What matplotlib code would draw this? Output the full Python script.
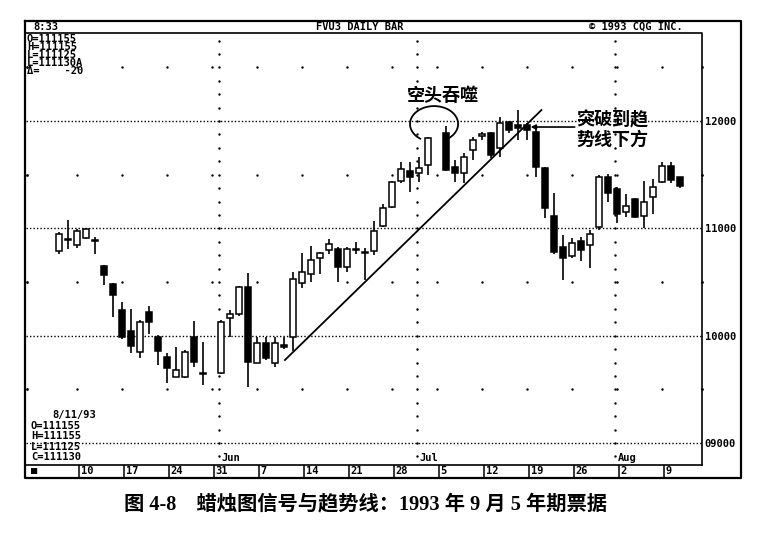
import numpy as np
import pandas as pd
import matplotlib
matplotlib.use("Agg")
import matplotlib.pyplot as plt

# daily bars, FVU3 (5-year note, Sep 1993)
dates = [
    "1993-05-06", "1993-05-07", "1993-05-10", "1993-05-11", "1993-05-12", "1993-05-13", "1993-05-14",
    "1993-05-17", "1993-05-18", "1993-05-19", "1993-05-20", "1993-05-21",
    "1993-05-24", "1993-05-25", "1993-05-26", "1993-05-27", "1993-05-28",
    "1993-06-01", "1993-06-02", "1993-06-03", "1993-06-04",
    "1993-06-07", "1993-06-08", "1993-06-09", "1993-06-10", "1993-06-11",
    "1993-06-14", "1993-06-15", "1993-06-16", "1993-06-17", "1993-06-18",
    "1993-06-21", "1993-06-22", "1993-06-23", "1993-06-24", "1993-06-25",
    "1993-06-28", "1993-06-29", "1993-06-30", "1993-07-01", "1993-07-02",
    "1993-07-06", "1993-07-07", "1993-07-08", "1993-07-09",
    "1993-07-12", "1993-07-13", "1993-07-14", "1993-07-15", "1993-07-16",
    "1993-07-19", "1993-07-20", "1993-07-21", "1993-07-22", "1993-07-23",
    "1993-07-26", "1993-07-27", "1993-07-28", "1993-07-29", "1993-07-30",
    "1993-08-02", "1993-08-03", "1993-08-04", "1993-08-05", "1993-08-06",
    "1993-08-09", "1993-08-10", "1993-08-11",
]
opens = [10786, 10900, 10842, 10907, 10890, 10646, 10478,
         10236, 10040, 9847, 10217, 9990,
         9800, 9614, 9614, 9990, 9655,
         9650, 10161, 10199, 10450,
         9745, 9935, 9745, 9910, 9990,
         10490, 10570, 10720, 10795, 10804,
         10637, 10804, 10776, 10786, 11019,
         11196, 11441, 11534, 11515, 11590,
         11888, 11571, 11515, 11730,
         11860, 11888, 11748, 11990, 11962,
         11962, 11897, 11562, 11112, 10823,
         10739, 10879, 10842, 11009, 11475,
         11366, 11149, 11270, 11112, 11292,
         11431, 11580, 11478]
highs = [10963, 11075, 10990, 11000, 10915, 10655, 10487,
         10310, 10245, 10143, 10273, 10010,
         9838, 9894, 9870, 10134, 9940,
         10143, 10236, 10460, 10580,
         9990, 9990, 9990, 9990, 10590,
         10770, 10832, 10775, 10905, 10823,
         10823, 10870, 10814, 11065, 11224,
         11439, 11620, 11620, 11664, 11851,
         11953, 11636, 11702, 11851,
         11897, 11897, 12037, 12000, 12102,
         11981, 11944, 11571, 11326, 10935,
         10907, 10916, 10981, 11494, 11503,
         11384, 11317, 11280, 11438, 11460,
         11618, 11618, 11478]
lows = [10758, 10804, 10814, 10900, 10758, 10468, 10171,
        9970, 9835, 9791, 10013, 9730,
        9558, 9614, 9605, 9710, 9540,
        9640, 9990, 10180, 9520,
        9745, 9770, 9710, 9880, 9860,
        10440, 10500, 10570, 10758, 10500,
        10590, 10758, 10516, 10748, 11010,
        11186, 11420, 11338, 11431, 11497,
        11534, 11431, 11422, 11636,
        11823, 11655, 11664, 11888, 11823,
        11823, 11478, 11096, 10758, 10516,
        10720, 10692, 10627, 10981, 11242,
        11047, 11102, 11093, 11000, 11130,
        11420, 11420, 11375]
closes = [10944, 10890, 10972, 10990, 10880, 10562, 10376,
          9989, 9900, 10124, 10124, 9860,
          9698, 9680, 9852, 9755, 9640,
          10124, 10199, 10450, 9754,
          9935, 9795, 9935, 9890, 10530,
          10590, 10702, 10767, 10850, 10637,
          10804, 10795, 10767, 10972, 11186,
          11430, 11552, 11478, 11562, 11841,
          11543, 11515, 11664, 11823,
          11870, 11683, 11981, 11916, 11934,
          11916, 11571, 11190, 10776, 10720,
          10860, 10795, 10944, 11475, 11326,
          11130, 11205, 11102, 11242, 11385,
          11580, 11450, 11394]

week_starts = pd.date_range("1993-05-03", "1993-08-09", freq="W-MON")
week_labels = ["■", "10", "17", "24", "31", "7", "14", "21", "28", "5", "12", "19", "26", "2", "9"]
month_starts = ["1993-06-01", "1993-07-01", "1993-08-02"]
month_names = ["Jun", "Jul", "Aug"]
price_levels = [9000, 10000, 11000, 12000]
price_labels = ["09000", "10000", "11000", "12000"]
half_levels = [9500, 10500, 11500, 12500]

# trend line drawn on the original chart (bar index, price)
trend_x = [28.1, 56.6]
trend_y = [9773, 12102]

top_info = ["O=111155", "H=111155", "L=111125", "L=111130A", "Δ=    -20"]
bottom_date = "8/11/93"
bottom_info = ["O=111155", "H=111155", "L=111125", "C=111130"]

caption = "图 4-8　蜡烛图信号与趋势线：1993 年 9 月 5 年期票据"

df = pd.DataFrame({"date": pd.to_datetime(dates), "open": opens, "high": highs,
                   "low": lows, "close": closes})
origin = np.datetime64("1993-05-03")
df["x"] = np.busday_count(origin, df["date"].values.astype("datetime64[D]"))
week_x = np.busday_count(origin, week_starts.values.astype("datetime64[D]"))
month_x = np.busday_count(origin, np.array(month_starts, dtype="datetime64[D]")) - 0.2

W, H = 778, 538
mono = "DejaVu Sans Mono"
cjk = "Noto Sans CJK SC"

fig = plt.figure(figsize=(W / 100, H / 100), dpi=100)
L, R, T, B = 26, 702, 33, 465
ax = fig.add_axes([L / W, 1 - B / H, (R - L) / W, (B - T) / H])
x0, x1 = -0.667, 74.44
ax.set_xlim(x0, x1)
ax.set_ylim(8795, 12820)
for s in ax.spines.values():
    s.set_visible(False)
ax.set_xticks([])

# grid: dense dotted lines at full points, sparse dots at half points
for lev in price_levels:
    ax.axhline(lev, color="black", lw=1.0, linestyle=(0, (1, 1.5)), zorder=1)
hx, hy = np.meshgrid(week_x[1:], half_levels)
ax.scatter(hx.ravel(), hy.ravel(), s=3, color="black", linewidths=0, zorder=1)
for edge in (x0 + 0.1, x1):
    ax.scatter(np.full(len(half_levels), edge), half_levels, s=4, color="black",
               linewidths=0, clip_on=False, zorder=1)
month_dots = np.arange(8875, 12800, 125)
for mx in month_x:
    ax.scatter(np.full(len(month_dots), mx), month_dots, s=3, color="black",
               linewidths=0, zorder=1)

# candlesticks
up = df["close"] >= df["open"]
ax.vlines(df["x"], df["low"], df["high"], color="black", lw=1.2, zorder=2)
body = (df["close"] - df["open"]).abs().clip(lower=15)
ax.bar(df["x"], body, bottom=df[["open", "close"]].min(axis=1), width=0.62,
       color=np.where(up, "white", "black"), edgecolor="black", lw=1.1, zorder=3)

# annotations: trend line, ring round the bearish engulfing, labels
ax.plot(trend_x, trend_y, color="black", lw=1.3, zorder=4)
t = np.radians(np.linspace(-50, 235, 120))
ax.plot(44.67 + 2.67 * np.cos(t), 11972 + 167 * np.sin(t), color="black", lw=1.3, zorder=4)
ax.text(45.67, 12242, "空头吞噬", family=[cjk], fontweight="bold", fontsize=13,
        ha="center", va="center")
ax.text(60.5, 12012, "突破到趋", family=[cjk], fontweight="bold", fontsize=13,
        ha="left", va="center")
ax.text(60.5, 11826, "势线下方", family=[cjk], fontweight="bold", fontsize=13,
        ha="left", va="center")
ax.annotate("", xy=(55.4, 11944), xytext=(60.3, 11944),
            arrowprops=dict(arrowstyle="-|>", lw=1.2, color="black",
                            mutation_scale=7, shrinkA=0, shrinkB=0))

# right price scale
ax.yaxis.tick_right()
ax.set_yticks(price_levels, price_labels)
ax.tick_params(axis="y", length=0, pad=2)
for lab in ax.get_yticklabels():
    lab.set_fontfamily(mono)
    lab.set_fontweight("bold")
    lab.set_fontsize(7.5)

# date strip under the plot
xt = ax.get_xaxis_transform()
ax.vlines(week_x[1:] + 0.22, -0.030, 0, transform=xt, color="black", lw=1.1, clip_on=False)
for wx, lab in zip(week_x, week_labels):
    ax.text(wx + 0.4 if wx else wx - 0.15, -0.015, lab, transform=xt, family=mono,
            fontweight="bold", fontsize=7.5, ha="left", va="center", clip_on=False)
for mx, name in zip(month_x, month_names):
    ax.text(mx + 0.25, 0.016, name, transform=xt, family=mono, fontweight="bold",
            fontsize=7.5, ha="left", va="center")

# frame, header and quote boxes in pixel coordinates
ov = fig.add_axes([0, 0, 1, 1], zorder=5)
ov.set_xlim(0, W)
ov.set_ylim(H, 0)
ov.axis("off")
ov.patch.set_alpha(0)
ov.plot([25, 741, 741, 25, 25], [21, 21, 478, 478, 21], color="black", lw=1.6)
ov.plot([26, 702, 702], [33, 33, 465], color="black", lw=1.2)
ov.plot([26, 702], [465, 465], color="black", lw=1.2)

hdr = dict(family=mono, fontweight="bold", fontsize=7.5)
ov.text(33, 27, "8:33", ha="left", va="center", **hdr)
ov.text(360, 27, "FVU3 DAILY BAR", ha="center", va="center", **hdr)
ov.text(636, 27, "© 1993 CQG INC.", ha="center", va="center", **hdr)

ov.text(27, 34.5, "\n".join(top_info), ha="left", va="top", linespacing=0.74, **hdr)
ov.text(52, 415, bottom_date, ha="left", va="center", **hdr)
ov.text(31, 421, "\n".join(bottom_info), ha="left", va="top", linespacing=1.06, **hdr)

ov.text(366, 504, caption, family=["Liberation Serif", cjk], fontweight="bold",
        fontsize=14.6, ha="center", va="center")

fig.savefig("out.png", dpi=100, facecolor="white")
